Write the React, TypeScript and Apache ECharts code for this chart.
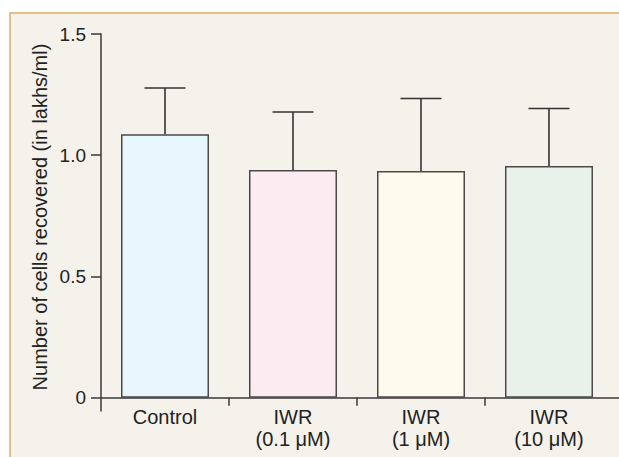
import React, { useEffect, useRef } from 'react';
import * as echarts from 'echarts';

const categories = ['Control', 'IWR\n(0.1 μM)', 'IWR\n(1 μM)', 'IWR\n(10 μM)'];
const means = [1.087, 0.939, 0.935, 0.956];
const errorTops = [1.277, 1.178, 1.234, 1.193];
const barColors = ['#e8f6fd', '#fcecf2', '#fefbec', '#e8f2ea'];
const yTicks = [0, 0.5, 1.0, 1.5];
const yTitle = 'Number of cells recovered (in lakhs/ml)';

export default function App() {
  const ref = useRef<HTMLDivElement>(null);
  useEffect(() => {
    if (!ref.current) return;
    const chart = echarts.init(ref.current, null, { renderer: 'svg' });
    const centers = categories.map((_, i) => i + 0.5);
    const font = "'Liberation Sans', Arial, Helvetica, sans-serif";
    chart.setOption({
      animation: false,
      backgroundColor: 'transparent',
      textStyle: { fontFamily: font },
      grid: { left: 101, right: 0, top: 34, bottom: 46, containLabel: false },
      xAxis: {
        type: 'value',
        min: 0,
        max: 4.047,
        axisLine: { onZero: true, lineStyle: { color: '#3a3a3a', width: 1.5 } },
        axisTick: { customValues: [1, 2, 3], length: 8, lineStyle: { color: '#3a3a3a', width: 1.5 } },
        axisLabel: {
          customValues: centers,
          formatter: (v: number) => categories[Math.round(v - 0.5)] ?? '',
          color: '#222',
          fontSize: 20,
          lineHeight: 22,
          margin: -5,
          fontFamily: font,
        },
        splitLine: { show: false },
      },
      yAxis: {
        type: 'value',
        min: -0.055,
        max: 1.5,
        axisLine: { onZero: false, lineStyle: { color: '#3a3a3a', width: 1.5 } },
        axisTick: { customValues: yTicks, length: 10, lineStyle: { color: '#3a3a3a', width: 1.5 } },
        axisLabel: {
          customValues: yTicks,
          formatter: (v: number) => (v === 0 ? '0' : v.toFixed(1)),
          color: '#222',
          fontSize: 19,
          margin: 15,
          fontFamily: font,
        },
        splitLine: { show: false },
      },
      graphic: [
        {
          type: 'text',
          x: 40,
          y: 217,
          rotation: Math.PI / 2,
          style: {
            text: yTitle,
            fill: '#222',
            font: `20px ${font}`,
            textAlign: 'center',
            textVerticalAlign: 'middle',
          },
        },
      ],
      series: [
        {
          type: 'bar',
          barWidth: 88,
          data: means.map((m, i) => ({
            value: [centers[i], m],
            itemStyle: { color: barColors[i] },
          })),
          itemStyle: { borderColor: '#4a4a4a', borderWidth: 1.5 },
          z: 3,
        },
        {
          type: 'custom',
          z: 4,
          data: means.map((m, i) => [centers[i], m, errorTops[i]]),
          renderItem: (params: any, api: any) => {
            const x = api.value(0);
            const lo = api.coord([x, api.value(1)]);
            const hi = api.coord([x, api.value(2)]);
            const half = 20.5;
            const style = { stroke: '#333', lineWidth: 1.6 };
            return {
              type: 'group',
              children: [
                { type: 'line', shape: { x1: lo[0], y1: lo[1], x2: hi[0], y2: hi[1] }, style },
                { type: 'line', shape: { x1: hi[0] - half, y1: hi[1], x2: hi[0] + half, y2: hi[1] }, style },
              ],
            };
          },
        },
      ],
    });
    return () => chart.dispose();
  }, []);

  return (
    <div style={{ position: 'fixed', left: 0, top: 0, width: 619, height: 457, background: '#ffffff', overflow: 'hidden' }}>
      <div
        style={{
          position: 'absolute',
          left: 9,
          top: 12,
          width: 640,
          height: 480,
          background: '#f5f2eb',
          borderTop: '2px solid #e3c189',
          borderLeft: '2px solid #e3c189',
        }}
      />
      <div ref={ref} style={{ position: 'absolute', left: 0, top: 0, width: 619, height: 457 }} />
    </div>
  );
}
